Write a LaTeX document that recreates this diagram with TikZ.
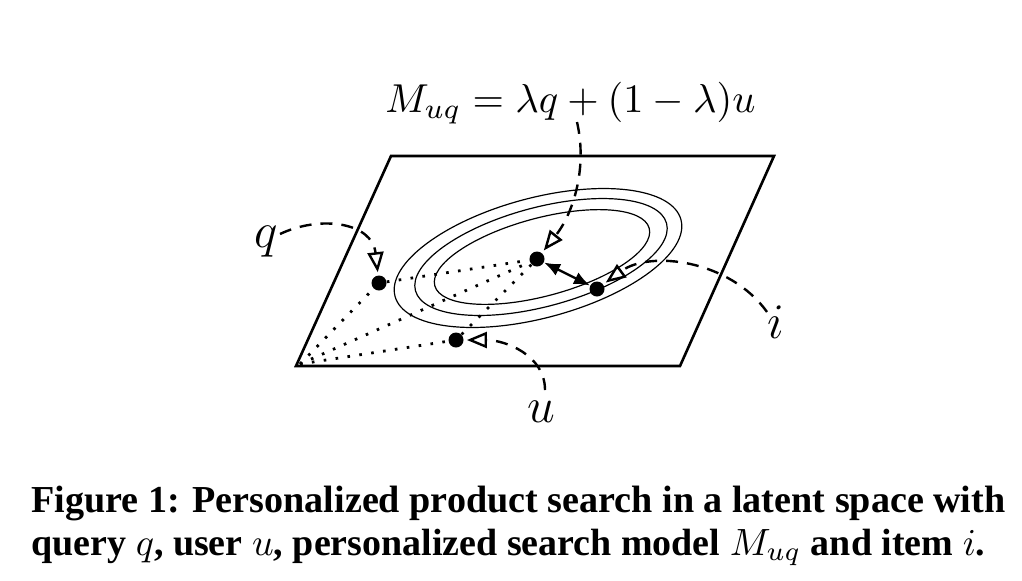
\documentclass[tikz,border=0pt]{standalone}
\usepackage{fontspec}
\setmainfont{Liberation Serif}
\usetikzlibrary{arrows.meta}
\begin{document}
\begin{tikzpicture}[x=0.5pt,y=-0.5pt,
  plane/.style={line width=1.3pt, line join=miter},
  contour/.style={line width=0.6pt},
  dotline/.style={line width=1.4pt, dash pattern=on 1.3pt off 4.7pt},
  pointer/.style={line width=1.2pt, dash pattern=on 6pt off 4.5pt,
    -{Triangle[open,length=10pt,width=8pt,line width=1.2pt]}, shorten >=1.5pt},
  dotnode/.style={circle, fill, inner sep=0pt, minimum size=7.5pt},
  lbl/.style={inner sep=0pt, font=\fontsize{23}{27}\selectfont},
  twohead/.style={line width=1.2pt, {Latex[length=8pt,width=6.5pt]}-{Latex[length=8pt,width=6.5pt]}}
]
\useasboundingbox (0,0) rectangle (1022,580);
% plane
\coordinate (A) at (296,366);
\coordinate (B) at (680,366);
\coordinate (C) at (774,156);
\coordinate (D) at (391,156);
\draw[plane] (A) -- (B) -- (C) -- (D) -- cycle;
\coordinate (O) at (300,364);
% contours
\draw[contour, rotate around={15:(538,258)}] (538,258) ellipse [x radius=148, y radius=60];
\draw[contour, rotate around={15:(541,257)}] (541,257) ellipse [x radius=130, y radius=49.5];
\draw[contour, rotate around={15:(542,257)}] (542,257) ellipse [x radius=111, y radius=39];
% points
\node[dotnode] (q) at (379,283) {};
\node[dotnode] (M) at (537,259) {};
\node[dotnode] (i) at (597,289) {};
\node[dotnode] (u) at (456,340) {};
% dotted construction
\draw[dotline] (O) -- (q);
\draw[dotline] (O) -- (M);
\draw[dotline] (O) -- (u);
\draw[dotline] (q) -- (M);
\draw[dotline] (u) -- (M);
% distance
\draw[twohead] (M) -- (i);
% labels
\node[anchor=base west, inner sep=0pt] (form) at (385,112)
  {\resizebox{185pt}{!}{$M_{uq} = \lambda q + (1-\lambda)u$}};
\node[lbl, anchor=base] (ql) at (266,247) {$q$};
\node[lbl, anchor=base] (il) at (776,338) {$i$};
\node[lbl, anchor=base] (ul) at (541,422) {$u$};
\coordinate (qs) at (280,234);
\coordinate (ms) at (577,122);
\coordinate (is) at (767,312);
\coordinate (us) at (545,390);
% pointers
\draw[pointer] (qs) .. controls (320,215) and (372,222) .. (q);
\draw[pointer] (ms) .. controls (588,170) and (572,215) .. (M);
\draw[pointer] (is) .. controls (730,260) and (650,250) .. (i);
\draw[pointer] (us) .. controls (545,355) and (505,340) .. (u);
% caption
\node[anchor=base west, inner sep=0pt] (cap1) at (31,512)
  {\resizebox{487pt}{!}{\bfseries Figure 1: Personalized product search in a latent space with}};
\node[anchor=base west, inner sep=0pt] (cap2) at (31,555)
  {\resizebox{477pt}{!}{\bfseries query $q$, user $u$, personalized search model $M_{uq}$ and item $i$.}};
\end{tikzpicture}
\end{document}
